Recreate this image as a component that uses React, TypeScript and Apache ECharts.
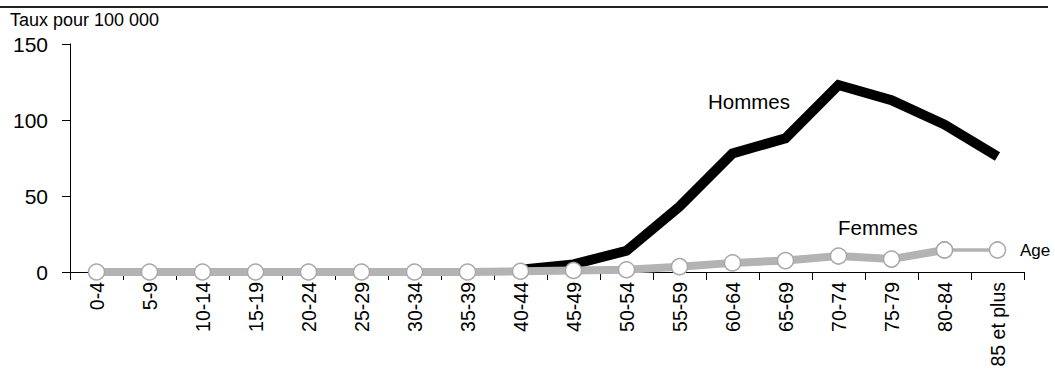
import React, { useEffect, useRef } from "react";
import * as echarts from "echarts";

const categories = [
  "0-4", "5-9", "10-14", "15-19", "20-24", "25-29", "30-34", "35-39", "40-44",
  "45-49", "50-54", "55-59", "60-64", "65-69", "70-74", "75-79", "80-84", "85 et plus",
];
const hommes = [null, null, null, null, null, null, null, null, 1.5, 5, 14, 43, 78, 88, 123, 113, 97, 76];
const femmes = [0, 0, 0, 0, 0, 0, 0, 0, 0.5, 1, 1.5, 3.5, 6, 7.5, 10.5, 8.5, 14.5, null];
const femmesFin = [null, null, null, null, null, null, null, null, null, null, null, null, null, null, null, null, 14.5, 14.5];
const yTicks = { min: 0, max: 150, interval: 50 };

const FONT = "'Liberation Sans', Arial, sans-serif";

export default function App() {
  const ref = useRef<HTMLDivElement>(null);
  useEffect(() => {
    document.body.style.margin = "0";
    const chart = echarts.init(ref.current!, null, { renderer: "svg" });
    const marker = {
      symbol: "circle",
      symbolSize: 16,
      itemStyle: { color: "#ffffff", borderColor: "#a8a8a8", borderWidth: 1.5 },
    };
    chart.setOption({
      animation: false,
      textStyle: { fontFamily: FONT },
      grid: { left: 70, right: 31, top: 44, bottom: 108 },
      xAxis: {
        type: "category",
        data: categories,
        boundaryGap: true,
        axisLine: { lineStyle: { color: "#000", width: 1 } },
        axisTick: { show: true, interval: 0, length: 8, lineStyle: { color: "#000" } },
        axisLabel: { rotate: 90, interval: 0, fontSize: 19.5, color: "#000", margin: 10, fontFamily: FONT },
        splitLine: { show: false },
      },
      yAxis: {
        type: "value",
        min: yTicks.min,
        max: yTicks.max,
        interval: yTicks.interval,
        axisLine: { show: true, lineStyle: { color: "#000", width: 1 } },
        axisTick: { show: true, length: 8, lineStyle: { color: "#000" } },
        axisLabel: { fontSize: 21, color: "#000", margin: 22, fontFamily: FONT },
        splitLine: { show: false },
      },
      series: [
        {
          name: "Hommes",
          type: "line",
          data: hommes,
          showSymbol: false,
          symbol: "none",
          lineStyle: { color: "#000", width: 10, join: "miter", cap: "butt" },
          z: 2,
        },
        {
          name: "Femmes",
          type: "line",
          data: femmes,
          ...marker,
          lineStyle: { color: "#b3b3b3", width: 8, join: "miter" },
          z: 3,
        },
        {
          name: "FemmesFin",
          type: "line",
          data: femmesFin,
          ...marker,
          lineStyle: { color: "#b3b3b3", width: 3.5 },
          z: 3,
        },
      ],
      graphic: [
        { type: "line", shape: { x1: 0, y1: 7, x2: 1048, y2: 7 }, style: { stroke: "#222", lineWidth: 2 } },
        { type: "text", left: 10, top: 11, style: { text: "Taux pour 100 000", font: `18px ${FONT}`, fill: "#000" } },
        { type: "text", left: 708, top: 91, style: { text: "Hommes", font: `20.5px ${FONT}`, fill: "#000" } },
        { type: "text", left: 838, top: 217, style: { text: "Femmes", font: `20.5px ${FONT}`, fill: "#000" } },
        { type: "text", left: 1020, top: 242, style: { text: "Age", font: `17px ${FONT}`, fill: "#000" } },
      ],
    });
    return () => chart.dispose();
  }, []);
  return <div ref={ref} style={{ width: 1055, height: 380 }} />;
}
